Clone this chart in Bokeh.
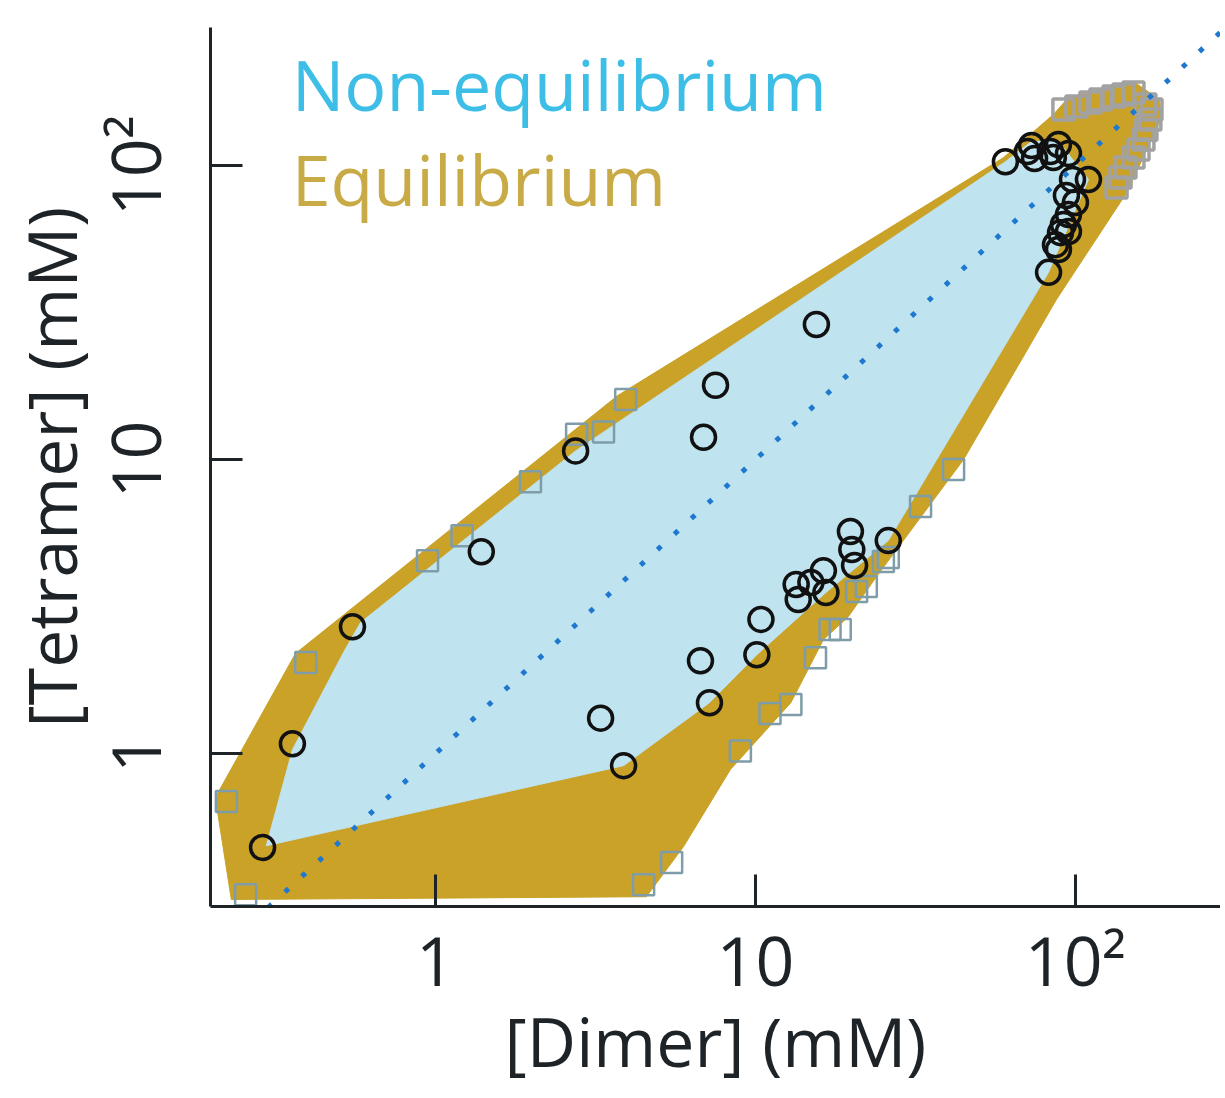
from bokeh.plotting import figure
from bokeh.models import Range1d, FixedTicker, Label
from bokeh.embed import file_html
from bokeh.resources import INLINE

# ---- data (log-log, mM) ----
# Non-equilibrium simulations (black circles)
noneq_x = [0.288, 0.357, 0.55, 1.39, 2.74, 6.88, 7.5, 15.5, 3.28, 3.87, 6.73, 7.18,
           10.1, 10.4, 13.4, 13.6, 14.9, 16.3, 16.6, 19.8, 20.0, 20.4, 26.0,
           60.4, 70.8, 72.9, 74.5, 83.5, 88.5, 95.1, 85.3, 109.8, 97.9, 93.7, 100.0,
           95.1, 91.7, 89.8, 95.1, 86.6, 88.5, 82.4]
noneq_y = [0.479, 1.08, 2.70, 4.86, 10.7, 11.9, 17.9, 28.8, 1.32, 0.91, 2.07, 1.49,
           2.17, 2.86, 3.76, 3.34, 3.82, 4.19, 3.53, 5.69, 4.94, 4.36, 5.30,
           103.0, 111.6, 116.9, 105.6, 111.6, 117.8, 109.9, 106.4, 89.6, 89.6, 79.0, 74.8,
           68.1, 63.0, 59.1, 59.6, 53.8, 51.8, 43.3]

# Equilibrium simulations (grey-blue squares)
eq_x = [0.222, 0.255, 0.393, 0.944, 1.21, 1.98, 2.76, 3.35, 3.93, 4.47, 5.47, 8.97,
        11.1, 12.9, 15.4, 17.1, 18.4, 20.7, 22.2, 25.1, 26.0, 32.8, 41.6]
eq_y = [0.687, 0.331, 2.04, 4.53, 5.51, 8.41, 12.2, 12.4, 16.0, 0.358, 0.426, 1.02,
        1.37, 1.47, 2.12, 2.64, 2.64, 3.56, 3.70, 4.50, 4.64, 6.92, 9.25]

# Equilibrium simulations at high concentration (grey squares)
eq_hi_x = [91.7, 100.7, 111.4, 119.7, 131.5, 141.3, 151.8, 165.4, 172.8, 171.4,
           166.6, 163.1, 157.4, 151.8, 143.3, 138.3, 134.4]
eq_hi_y = [155.0, 158.7, 163.8, 167.6, 171.6, 174.3, 177.0, 161.2, 155.0, 143.2,
           132.4, 122.5, 113.3, 106.4, 98.4, 91.0, 84.2]

# Region outlines
eq_region_x = [3.71, 59.6, 85.3, 95.1, 151.8, 183.0, 185.7, 145.4, 87.2, 44.7, 23.9,
               19.5, 16.3, 12.9, 8.35, 5.96, 4.56, 0.230, 0.205, 0.365]
eq_region_y = [16.5, 106.4, 149.0, 170.3, 193.1, 167.6, 145.6, 81.6, 35.0, 10.0, 4.0,
               2.92, 2.44, 1.49, 0.883, 0.483, 0.326, 0.319, 0.709, 2.19]

noneq_region_x = [0.296, 0.357, 0.516, 0.583, 2.74, 60.4, 72.9, 88.5, 109.8, 82.4,
                  26.0, 16.6, 10.1, 7.18, 3.87]
noneq_region_y = [0.486, 1.03, 2.21, 2.79, 10.7, 103.0, 120.7, 120.7, 89.6, 43.3,
                  5.30, 3.53, 2.17, 1.49, 0.91]

# identity line [Tetramer] = [Dimer]
diag_x = [0.1, 1000.0]
diag_y = [0.1, 1000.0]

tick_values = [1, 10, 100]
tick_labels = ["1", "10", "10\u00b2"]

legend_labels = ["Non-equilibrium", "Equilibrium"]

FONT = "Open Sans"
INK = "#1d2327"
GOLD = "#C9A227"
SKY = "#BFE3EF"

p = figure(x_axis_type="log", y_axis_type="log",
           x_range=Range1d(0.198, 284.0), y_range=Range1d(0.302, 294.6),
           frame_width=1010, frame_height=879,
           min_border_left=199, min_border_right=0,
           min_border_top=27, min_border_bottom=180,
           output_backend="svg", toolbar_location=None,
           background_fill_color="white", border_fill_color="white")
p.outline_line_color = None
p.grid.visible = False

p.patch(eq_region_x, eq_region_y, fill_color=GOLD, line_color=GOLD, line_width=1)
p.patch(noneq_region_x, noneq_region_y, fill_color=SKY, line_color=SKY, line_width=1)

p.scatter(eq_x, eq_y, marker="square", size=21, fill_color=None,
          line_color="#7E9DA9", line_width=2.5)
p.scatter(eq_hi_x, eq_hi_y, marker="square", size=21, fill_color=None,
          line_color="#A2A2A2", line_width=3.5)
p.scatter(noneq_x, noneq_y, marker="circle", size=24, fill_color=None,
          line_color="#111111", line_width=3.5)

p.line(diag_x, diag_y, line_color="#1E78CF", line_width=5, line_dash="5 18")

p.add_layout(Label(x=0.355, y=188.8, text=legend_labels[0], text_font=FONT,
                   text_font_size="70px", text_color="#3CBEE6",
                   text_baseline="alphabetic"))
p.add_layout(Label(x=0.355, y=90.2, text=legend_labels[1], text_font=FONT,
                   text_font_size="70px", text_color="#C8AA46",
                   text_baseline="alphabetic"))

overrides = {v: s for v, s in zip(tick_values, tick_labels)}
for ax in (p.xaxis[0], p.yaxis[0]):
    ax.ticker = FixedTicker(ticks=tick_values)
    ax.major_label_overrides = overrides
    ax.minor_tick_line_color = None
    ax.major_tick_in = 32
    ax.major_tick_out = 0
    ax.major_tick_line_width = 3
    ax.major_tick_line_color = INK
    ax.axis_line_width = 3
    ax.axis_line_color = INK
    ax.major_label_text_font = FONT
    ax.major_label_text_font_size = "68px"
    ax.major_label_text_color = INK
    ax.axis_label_text_font = FONT
    ax.axis_label_text_font_size = "68px"
    ax.axis_label_text_font_style = "normal"
    ax.axis_label_text_color = INK

p.xaxis.axis_label = "[Dimer] (mM)"
p.yaxis.axis_label = "[Tetramer] (mM)"
p.xaxis.major_label_standoff = 6
p.xaxis.axis_label_standoff = -15
p.yaxis.major_label_standoff = 29
p.yaxis.axis_label_standoff = -11
p.yaxis.major_label_orientation = "vertical"

open("out.html", "w").write(file_html(p, INLINE))
